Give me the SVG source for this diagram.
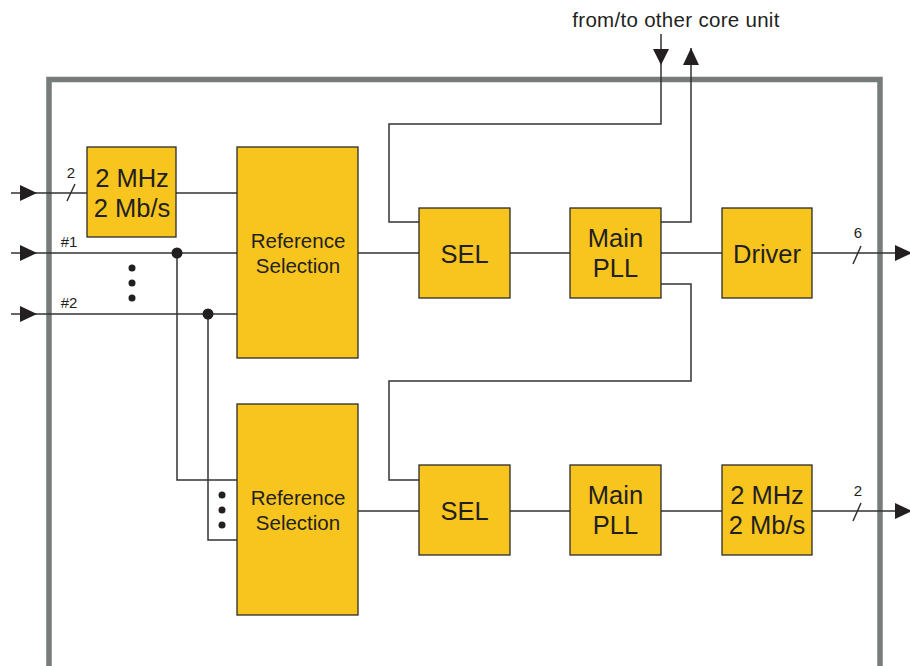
<svg xmlns="http://www.w3.org/2000/svg" width="910" height="666" viewBox="0 0 910 666">
<style>
.box{fill:#F7C51E;stroke:#2b2b2b;stroke-width:1.3}
.ln{fill:none;stroke:#333;stroke-width:1.5}
.big{font-family:"Liberation Sans",Arial,sans-serif;font-size:25.5px;fill:#231f20;text-anchor:middle}
.mid{font-family:"Liberation Sans",Arial,sans-serif;font-size:20.5px;fill:#231f20;text-anchor:middle}
.ttl{font-family:"Liberation Sans",Arial,sans-serif;font-size:20.5px;fill:#231f20;text-anchor:middle;letter-spacing:0.3px}
.sm{font-family:"Liberation Sans",Arial,sans-serif;font-size:15px;fill:#231f20;text-anchor:middle}
.dot{fill:#231f20}
.arr{fill:#231f20}
</style>
<rect x="49" y="79.5" width="831" height="620" fill="none" stroke="#767c7a" stroke-width="5.5"/>
<text x="676" y="27" class="ttl">from/to other core unit</text>
<g id="connectors">
<path class="ln" d="M11 193H87M176 193H237"/>
<path class="ln" d="M11 253H237"/>
<path class="ln" d="M11 314H237"/>
<path class="ln" d="M177 253V480H237M208 314V540H237"/>
<path class="ln" d="M358 253H419M510 253H570M661 253H722M812 253H900"/>
<path class="ln" d="M358 511H419M510 511H570M661 511H722M812 511H900"/>
<path class="ln" d="M419 222H389V124H661V34"/>
<path class="ln" d="M661 222H691V48"/>
<path class="ln" d="M661 284H691V381H389V480H419"/>
<path class="ln" d="M67 201L75 184M853 264L861 246M853 521L861 503"/>
<polygon class="arr" points="20,185 37,193 20,201"/>
<polygon class="arr" points="20,245 37,253 20,261"/>
<polygon class="arr" points="20,306 37,314 20,322"/>
<polygon class="arr" points="895,245 912,253 895,261"/>
<polygon class="arr" points="895,503 912,511 895,519"/>
<polygon class="arr" points="653,49 669,49 661,65"/>
<polygon class="arr" points="683,65 699,65 691,48"/>
<circle class="dot" cx="177" cy="253" r="5.5"/>
<circle class="dot" cx="208" cy="314" r="5.5"/>
<circle class="dot" cx="132" cy="268" r="3.5"/>
<circle class="dot" cx="132" cy="283" r="3.5"/>
<circle class="dot" cx="132" cy="298" r="3.5"/>
<circle class="dot" cx="222" cy="495" r="3.5"/>
<circle class="dot" cx="222" cy="510" r="3.5"/>
<circle class="dot" cx="222" cy="525" r="3.5"/>
<text x="71" y="178" class="sm">2</text>
<text x="69" y="247" class="sm">#1</text>
<text x="69" y="308" class="sm">#2</text>
<text x="858" y="238" class="sm">6</text>
<text x="858" y="496" class="sm">2</text>
</g>
<g id="clk1"><rect class="box" x="87" y="147" width="89" height="90"/><text x="132" y="187" class="big">2 MHz</text><text x="132" y="217" class="big">2 Mb/s</text></g>
<g id="refsel1"><rect class="box" x="237" y="147" width="121" height="211"/><text x="298" y="248" class="mid">Reference</text><text x="298" y="273" class="mid">Selection</text></g>
<g id="refsel2"><rect class="box" x="237" y="404" width="121" height="211"/><text x="298" y="505" class="mid">Reference</text><text x="298" y="530" class="mid">Selection</text></g>
<g id="sel1"><rect class="box" x="419" y="208" width="91" height="90"/><text x="464.5" y="263" class="big">SEL</text></g>
<g id="sel2"><rect class="box" x="419" y="465" width="91" height="90"/><text x="464.5" y="520" class="big">SEL</text></g>
<g id="pll1"><rect class="box" x="570" y="208" width="91" height="90"/><text x="615.5" y="247" class="big">Main</text><text x="615.5" y="277" class="big">PLL</text></g>
<g id="pll2"><rect class="box" x="570" y="465" width="91" height="90"/><text x="615.5" y="504" class="big">Main</text><text x="615.5" y="534" class="big">PLL</text></g>
<g id="driver"><rect class="box" x="722" y="208" width="90" height="90"/><text x="767" y="263" class="big">Driver</text></g>
<g id="clk2"><rect class="box" x="722" y="465" width="90" height="90"/><text x="767" y="504" class="big">2 MHz</text><text x="767" y="534" class="big">2 Mb/s</text></g>
</svg>
